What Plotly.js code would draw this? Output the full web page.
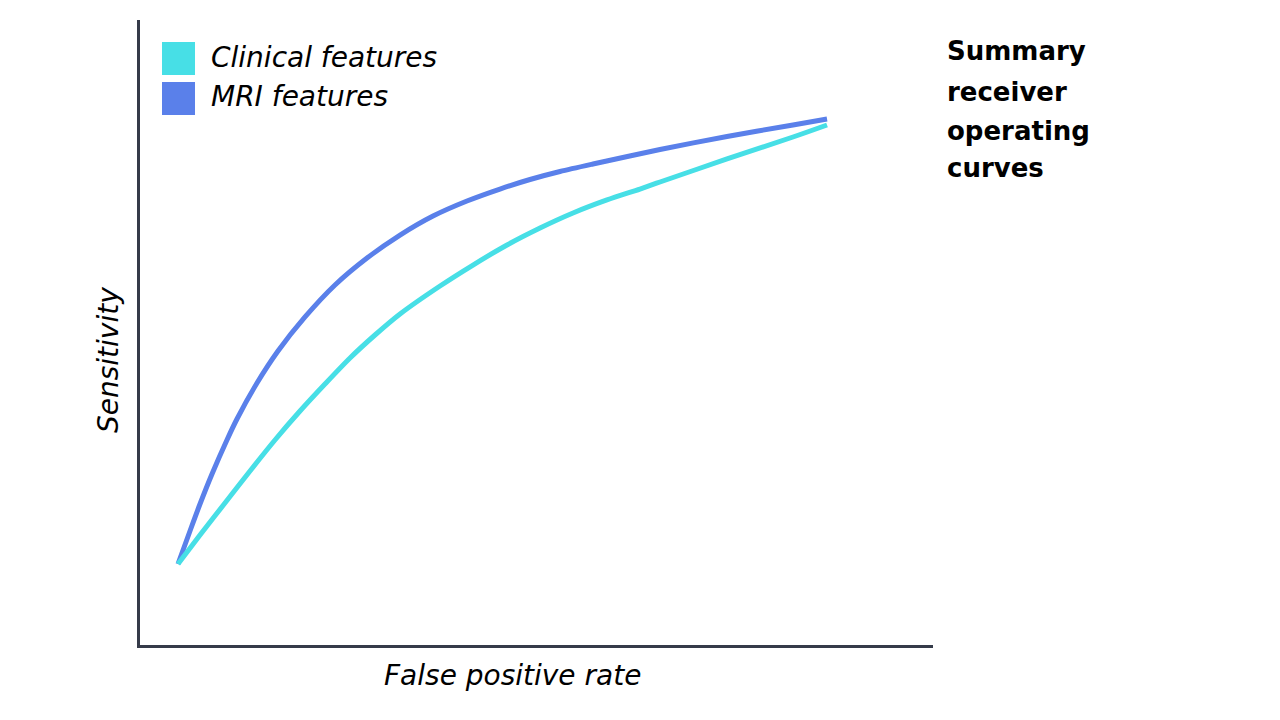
<!DOCTYPE html>
<html>
<head>
<meta charset="utf-8">
<script src="https://cdn.plot.ly/plotly-3.0.1.min.js"></script>
<style>html,body{margin:0;padding:0;background:#fff;}#chart{width:1280px;height:720px;}</style>
</head>
<body>
<div id="chart"></div>
<script>
// Data (false positive rate vs sensitivity)
const seriesNames = ["Clinical features", "MRI features"];
const seriesColors = ["#47dfe6", "#5a80ea"];

const clinicalFPR  = [0.0503, 0.0780, 0.1094, 0.1409, 0.1723, 0.2038, 0.2352, 0.2667, 0.2981, 0.3296, 0.3799, 0.4214, 0.4642, 0.5057, 0.5472, 0.5899, 0.6314, 0.6566, 0.7409, 0.8239, 0.8667];
const clinicalSens = [0.1310, 0.1773, 0.2284, 0.2796, 0.3291, 0.3754, 0.4185, 0.4601, 0.4968, 0.5304, 0.5751, 0.6086, 0.6406, 0.6677, 0.6917, 0.7125, 0.7300, 0.7412, 0.7780, 0.8131, 0.8323];

const mriFPR  = [0.0503, 0.0654, 0.0780, 0.0931, 0.1119, 0.1245, 0.1497, 0.1761, 0.2101, 0.2478, 0.2881, 0.3296, 0.3711, 0.4138, 0.4553, 0.4931, 0.5308, 0.5723, 0.6566, 0.7409, 0.8239, 0.8667];
const mriSens = [0.1310, 0.1837, 0.2268, 0.2748, 0.3291, 0.3626, 0.4201, 0.4712, 0.5256, 0.5767, 0.6198, 0.6565, 0.6869, 0.7109, 0.7300, 0.7452, 0.7580, 0.7700, 0.7931, 0.8139, 0.8323, 0.8419];

const titleLines = ["Summary", "receiver", "operating", "curves"];
const xTitle = "False positive rate";
const yTitle = "Sensitivity";

const FONT = "DejaVu Sans, sans-serif";

// plot area in pixels (for placing text in paper coordinates)
const L = 140, R = 933, T = 20, B = 645;
const px = v => (v - L) / (R - L);
const py = v => (B - v) / (B - T);

const traces = [
  {x: mriFPR, y: mriSens, name: seriesNames[1], mode: "lines",
   line: {color: seriesColors[1], width: 5, shape: "spline", smoothing: 0.8}},
  {x: clinicalFPR, y: clinicalSens, name: seriesNames[0], mode: "lines",
   line: {color: seriesColors[0], width: 5, shape: "spline", smoothing: 0.8}}
];

const shapes = [];
const anns = [];
seriesNames.forEach((n, i) => {
  const top = 42 + i * 40;
  shapes.push({type: "rect", xref: "paper", yref: "paper",
    x0: px(162), x1: px(195), y0: py(top + 33), y1: py(top),
    fillcolor: seriesColors[i], line: {width: 0}});
  anns.push({xref: "paper", yref: "paper", x: px(209), y: py(top + 15),
    xanchor: "left", yanchor: "middle", showarrow: false, text: n,
    font: {family: FONT, size: 28, color: "#000", style: "italic"}});
});

const titleY = [51, 92, 131, 168];
titleLines.forEach((t, i) => {
  anns.push({xref: "paper", yref: "paper", x: px(945), y: py(titleY[i]),
    xanchor: "left", yanchor: "middle", showarrow: false, text: t,
    font: {family: FONT, size: 26, color: "#000", weight: "bold"}});
});

anns.push({xref: "paper", yref: "paper", x: px(512), y: py(675),
  xanchor: "center", yanchor: "middle", showarrow: false, text: xTitle,
  font: {family: FONT, size: 28, color: "#000", style: "italic"}});
anns.push({xref: "paper", yref: "paper", x: px(108), y: py(360),
  xanchor: "center", yanchor: "middle", showarrow: false, text: yTitle, textangle: -90,
  font: {family: FONT, size: 28, color: "#000", style: "italic"}});

const layout = {
  width: 1280, height: 720,
  margin: {l: L, r: 1280 - R, t: T, b: 720 - B, pad: 0},
  paper_bgcolor: "#fff", plot_bgcolor: "#fff",
  showlegend: false,
  xaxis: {range: [(L - 138) / 795, (R - 138) / 795], showgrid: false, zeroline: false, showticklabels: false, ticks: "",
    showline: true, linecolor: "#353b49", linewidth: 3},
  yaxis: {range: [(646 - B) / 626, (646 - T) / 626], showgrid: false, zeroline: false, showticklabels: false, ticks: "",
    showline: true, linecolor: "#353b49", linewidth: 3},
  shapes: shapes,
  annotations: anns
};

Plotly.newPlot("chart", traces, layout, {displayModeBar: false, staticPlot: true});
</script>
</body>
</html>
